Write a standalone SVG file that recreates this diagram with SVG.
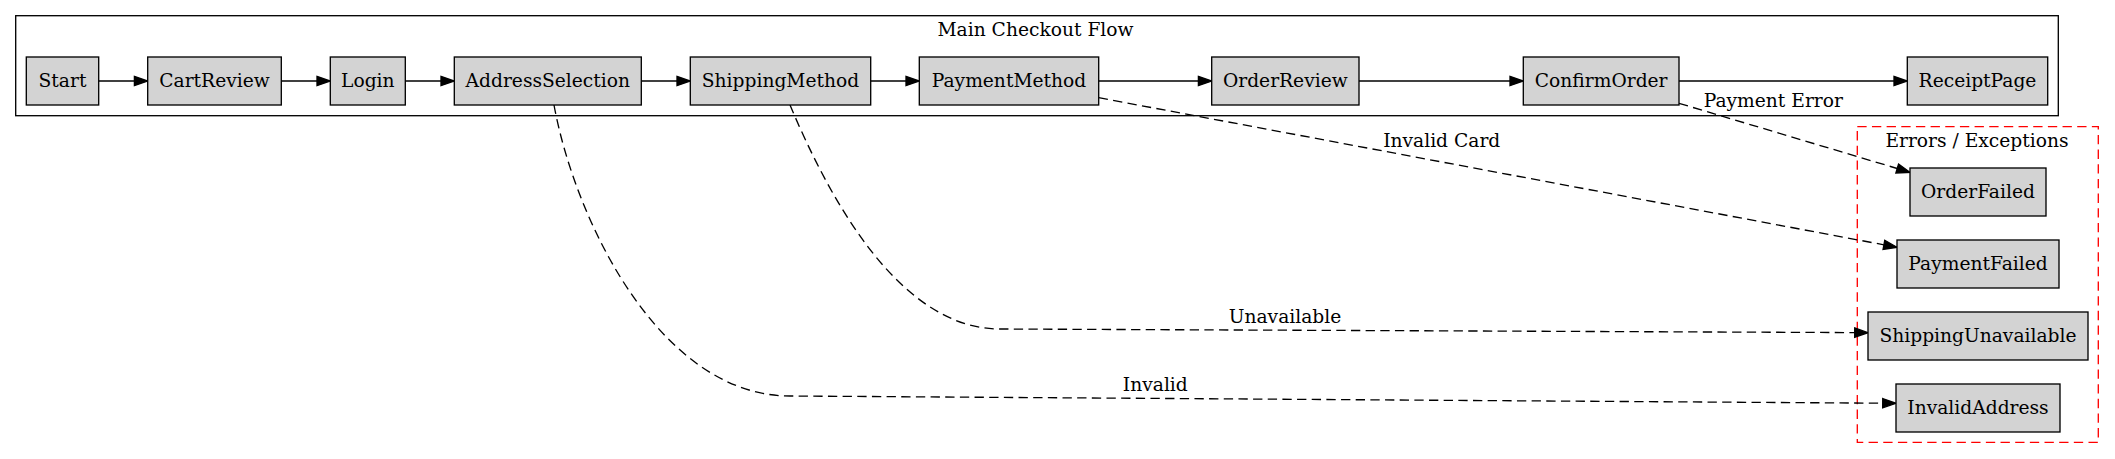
<svg xmlns="http://www.w3.org/2000/svg" width="2115" height="459" viewBox="0 0 2115 459">
<style>
text{font-family:"DejaVu Serif","Liberation Serif",serif;font-size:18.67px;fill:#000;text-anchor:middle}
.node rect{fill:#d3d3d3;stroke:#000;stroke-width:1.33}
.edge{fill:none;stroke:#000;stroke-width:1.33}
.dash{stroke-dasharray:9.33,5.33}
.cluster{fill:none;stroke:#000;stroke-width:1.33}
.errc{fill:none;stroke:#ff0000;stroke-width:1.33;stroke-dasharray:9.33,5.33}
</style>
<defs>
<marker id="arr" markerUnits="userSpaceOnUse" markerWidth="15" markerHeight="12" refX="0" refY="4.67" orient="auto" overflow="visible">
<path d="M0,0 L13.33,4.67 L0,9.33 z" fill="#000" stroke="#000" stroke-width="1.33" stroke-dasharray="none"/>
</marker>
</defs>
<rect x="0" y="0" width="2115" height="459" fill="#fff"/>
<g id="cluster_main">
<rect class="cluster" x="15.7" y="15.7" width="2042.6" height="100"/>
<text x="1035.5" y="35.7">Main Checkout Flow</text>
</g>
<g id="cluster_errors">
<rect class="errc" x="1857.3" y="126.7" width="241" height="315.6"/>
<text x="1977" y="146.7">Errors / Exceptions</text>
</g>
<g id="connectors">
<path class="edge" marker-end="url(#arr)" d="M98.7,81 L134.4,81"/>
<path class="edge" marker-end="url(#arr)" d="M281.3,81 L317,81"/>
<path class="edge" marker-end="url(#arr)" d="M405.3,81 L441,81"/>
<path class="edge" marker-end="url(#arr)" d="M641.3,81 L677,81"/>
<path class="edge" marker-end="url(#arr)" d="M870.7,81 L906,81"/>
<path class="edge" marker-end="url(#arr)" d="M1098.7,81 L1198.4,81"/>
<path class="edge" marker-end="url(#arr)" d="M1359,81 L1510,81"/>
<path class="edge" marker-end="url(#arr)" d="M1679,81 L1894,81"/>
<path class="edge dash" marker-end="url(#arr)" d="M1679,103.3 L1897.2,168.5"/>
<text x="1773.3" y="106.7">Payment Error</text>
<path class="edge dash" marker-end="url(#arr)" d="M1098.7,97.7 L1883.9,244.8"/>
<text x="1441.7" y="146.7">Invalid Card</text>
<path class="edge dash" marker-end="url(#arr)" d="M790,105 C830,200 900,329 1000,329 L1854.7,332.6"/>
<text x="1285" y="323.3">Unavailable</text>
<path class="edge dash" marker-end="url(#arr)" d="M554,105 C575,220 660,396 790,396 L1882.7,403.2"/>
<text x="1155.3" y="390.7">Invalid</text>
</g>
<g id="Start" class="node"><rect x="26.3" y="57" width="72.4" height="48"/><text x="62.5" y="86.6">Start</text></g>
<g id="CartReview" class="node"><rect x="147.7" y="57" width="133.6" height="48"/><text x="214.5" y="86.6">CartReview</text></g>
<g id="Login" class="node"><rect x="330.3" y="57" width="75" height="48"/><text x="367.8" y="86.6">Login</text></g>
<g id="AddressSelection" class="node"><rect x="454.3" y="57" width="187" height="48"/><text x="547.8" y="86.6">AddressSelection</text></g>
<g id="ShippingMethod" class="node"><rect x="690.3" y="57" width="180.4" height="48"/><text x="780.5" y="86.6">ShippingMethod</text></g>
<g id="PaymentMethod" class="node"><rect x="919.3" y="57" width="179.4" height="48"/><text x="1009" y="86.6">PaymentMethod</text></g>
<g id="OrderReview" class="node"><rect x="1211.7" y="57" width="147.3" height="48"/><text x="1285.3" y="86.6">OrderReview</text></g>
<g id="ConfirmOrder" class="node"><rect x="1523.3" y="57" width="155.7" height="48"/><text x="1601.2" y="86.6">ConfirmOrder</text></g>
<g id="ReceiptPage" class="node"><rect x="1907.3" y="57" width="140.4" height="48"/><text x="1977.5" y="86.6">ReceiptPage</text></g>
<g id="OrderFailed" class="node"><rect x="1910" y="168" width="136" height="48"/><text x="1978" y="197.6">OrderFailed</text></g>
<g id="PaymentFailed" class="node"><rect x="1897" y="240" width="162" height="48"/><text x="1978" y="269.6">PaymentFailed</text></g>
<g id="ShippingUnavailable" class="node"><rect x="1868" y="312" width="220" height="48"/><text x="1978" y="341.6">ShippingUnavailable</text></g>
<g id="InvalidAddress" class="node"><rect x="1896" y="384" width="164" height="48"/><text x="1978" y="413.6">InvalidAddress</text></g>
</svg>
